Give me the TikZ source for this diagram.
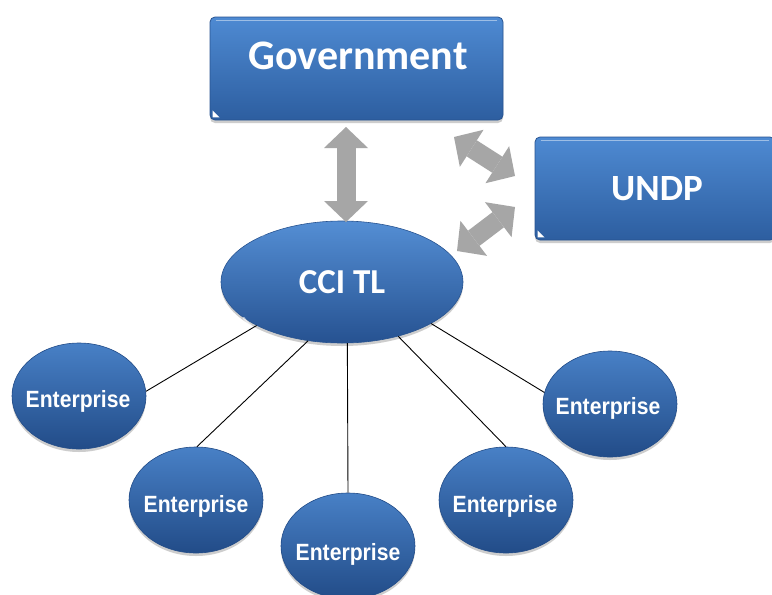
\documentclass[tikz,border=0pt]{standalone}
\usepackage{fontspec}
\newfontfamily\titlefont{Carlito}
\newfontfamily\entfont{Liberation Sans}
\usetikzlibrary{arrows.meta,shapes.geometric,shadows,calc}

\definecolor{boxtop}{RGB}{78,138,210}
\definecolor{boxmid}{RGB}{58,115,190}
\definecolor{boxbot}{RGB}{45,94,160}
\definecolor{boxedge}{RGB}{40,84,145}
\definecolor{ccitop}{RGB}{84,142,212}
\definecolor{ccimid}{RGB}{56,112,186}
\definecolor{ccibot}{RGB}{38,82,145}
\definecolor{enttop}{RGB}{72,128,198}
\definecolor{entmid}{RGB}{46,97,165}
\definecolor{entbot}{RGB}{34,76,136}
\definecolor{linkgray}{RGB}{166,166,166}

\tikzset{
  softshadow/.style={drop shadow={shadow xshift=0pt,shadow yshift=-3pt,opacity=.28,fill=black!70}},
  blockbox/.style={rectangle, rounded corners=5pt, inner sep=0pt,
    minimum width=293pt, minimum height=103pt,
    top color=boxtop, middle color=boxmid, bottom color=boxbot,
    draw=boxedge, line width=.8pt, softshadow},
  hubell/.style={ellipse, inner sep=0pt, minimum width=242pt, minimum height=122pt,
    top color=ccitop, middle color=ccimid, bottom color=ccibot,
    draw=boxedge, line width=.6pt, softshadow},
  entell/.style={ellipse, inner sep=0pt, minimum width=134pt, minimum height=106pt,
    top color=enttop, middle color=entmid, bottom color=entbot,
    draw=entbot, line width=.6pt, softshadow},
  titletext/.style={anchor=base, text=white, inner sep=0pt, font=\titlefont\bfseries},
  enttext/.style={anchor=base, text=white, inner sep=0pt,
    font=\entfont\bfseries\fontsize{23.5}{26}\selectfont},
  spoke/.style={black, line width=.9pt},
  fatlink/.style={linkgray, line width=19pt,
    {Triangle[length=21pt,width=44pt,line width=0pt]}-{Triangle[length=21pt,width=44pt,line width=0pt]}},
  glint/.style={white, opacity=.45, line width=1.6pt, line cap=round}
}

\begin{document}
\begin{tikzpicture}[x=1pt,y=-1pt]
  \clip (0,0) rectangle (772,595);
  \fill[white] (0,0) rectangle (772,595);

  % partner blocks
  \node[blockbox] (gov) at (356.5,68.5) {};
  \node[blockbox, minimum width=240pt] (undp) at (655,188.5) {};
  \draw[glint] ($(gov.north west)+(7,4)$) -- ($(gov.north east)+(-7,4)$);
  \draw[glint] ($(undp.north west)+(7,4)$) -- ($(undp.north east)+(-7,4)$);
  \fill[white] ($(gov.south west)+(3,-3)$) -- ++(7,0) -- ++(-7,-7) -- cycle;
  \fill[white] ($(undp.south west)+(3,-3)$) -- ++(7,0) -- ++(-7,-7) -- cycle;
  \node[titletext, font=\titlefont\bfseries\fontsize{42}{48}\selectfont] (govtext) at (358,69) {Government};
  \node[titletext, font=\titlefont\bfseries\fontsize{37}{42}\selectfont] (undptext) at (657,200) {UNDP};

  % chamber of commerce hub
  \node[hubell] (cci) at (342,282) {};
  \draw[glint, opacity=.35] ([shift={(0,0)}]cci.150) arc[start angle=150, end angle=35, x radius=114pt, y radius=55pt];
  \draw[white, opacity=.6, line width=2pt, line cap=round] (cci.200) arc[start angle=200, end angle=235, x radius=118pt, y radius=58pt];
  \node[titletext, font=\titlefont\bfseries\fontsize{35}{40}\selectfont] (ccitext) at (342,293) {CCI TL};

  % member enterprises
  \node[entell] (e1) at (79,396) {};
  \node[entell] (e2) at (196,500) {};
  \node[entell] (e3) at (348,546) {};
  \node[entell] (e4) at (506,500) {};
  \node[entell] (e5) at (610,404) {};
  \node[enttext] (e1t) at (78,407) {\scalebox{.9}[1]{Enterprise}};
  \node[enttext] (e2t) at (196,512) {\scalebox{.9}[1]{Enterprise}};
  \node[enttext] (e3t) at (348,560) {\scalebox{.9}[1]{Enterprise}};
  \node[enttext] (e4t) at (505,512) {\scalebox{.9}[1]{Enterprise}};
  \node[enttext] (e5t) at (608,414) {\scalebox{.9}[1]{Enterprise}};

  % spokes from the hub to each enterprise
  \draw[spoke] (cci.207) -- (e1.4);
  \draw[spoke] (cci.240) -- (e2.89);
  \draw[spoke] (cci.275) -- (e3.north);
  \draw[spoke] (cci.316) -- (e4.north);
  \draw[spoke] (cci.335) -- (e5.170);

  % two-way links between the partners
  \coordinate (gv) at (346,127);
  \coordinate (cv) at (346,222);
  \coordinate (ga) at (454,137);
  \coordinate (ua) at (515,176);
  \coordinate (ub) at (515,207);
  \coordinate (cb) at (457,251);
  \draw[fatlink] (gv) -- (cv);
  \draw[fatlink] (ga) -- (ua);
  \draw[fatlink] (ub) -- (cb);
\end{tikzpicture}
\end{document}
